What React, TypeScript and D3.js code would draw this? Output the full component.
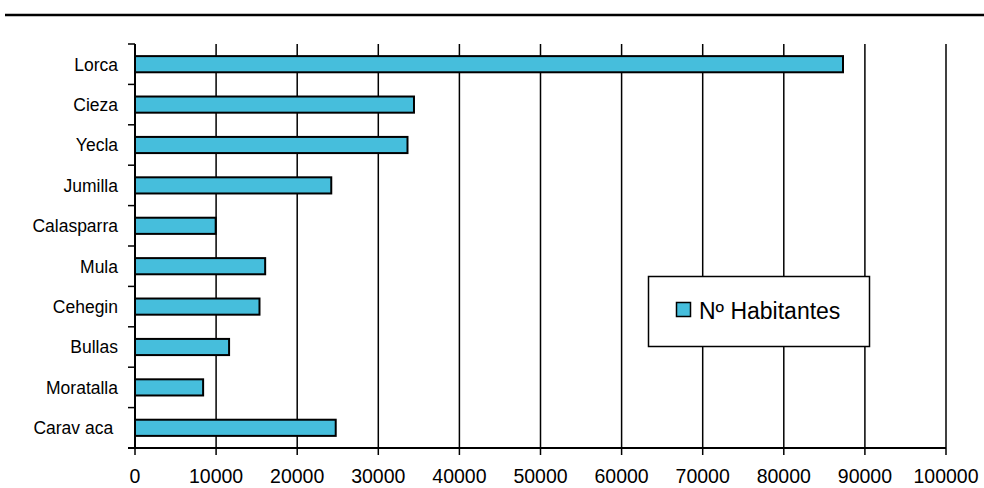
import React from "react";
import * as d3 from "d3";

const categories = ["Lorca", "Cieza", "Yecla", "Jumilla", "Calasparra", "Mula", "Cehegin", "Bullas", "Moratalla", "Carav aca "];
const habitantes = [87300, 34400, 33600, 24200, 9950, 16050, 15350, 11600, 8400, 24750];
const xTicks = [0, 10000, 20000, 30000, 40000, 50000, 60000, 70000, 80000, 90000, 100000];
const seriesName = "Nº Habitantes";

const W = 984;
const H = 488;
const left = 135;
const right = 946;
const top = 44;
const bottom = 448;
const font = "'Liberation Sans', Arial, sans-serif";
const baseFill = "#46bedc";

export default function App() {
  const x = d3.scaleLinear().domain([0, 100000]).range([left, right]);
  const y = d3.scaleBand<string>().domain(categories).range([top, bottom]).paddingInner(0.6).paddingOuter(0.3);
  const step = y.step();
  const boundaries = d3.range(categories.length + 1).map((i) => top + i * step);

  return (
    <>
      <style>{`body{margin:0}`}</style>
      <svg width={W} height={H} style={{ display: "block", background: "#fff" }} xmlSpace="preserve">
        <line x1={5} x2={W} y1={15} y2={15} stroke="#000" strokeWidth={2.4} />
        {/* gridlines */}
        {xTicks.slice(1).map((t) => (
          <line key={"g" + t} x1={x(t)} x2={x(t)} y1={top} y2={bottom} stroke="#000" strokeWidth={1.5} />
        ))}
        {/* bars */}
        {categories.map((c, i) => (
          <rect
            key={c}
            x={x(0)}
            y={y(c)!}
            width={x(habitantes[i]) - x(0)}
            height={y.bandwidth()}
            fill={baseFill}
            stroke="#000"
            strokeWidth={2}
          />
        ))}
        {/* y axis */}
        <line x1={left} x2={left} y1={top} y2={bottom} stroke="#000" strokeWidth={2} />
        {boundaries.map((b, i) => (
          <line key={"yt" + i} x1={left - 7} x2={left} y1={b} y2={b} stroke="#000" strokeWidth={1.5} />
        ))}
        {categories.map((c) => (
          <text
            key={"l" + c}
            x={118}
            y={y(c)! + y.bandwidth() / 2 + 6.3}
            textAnchor="end"
            fontFamily={font}
            fontSize={17.5}
            fill="#000"
            style={{ whiteSpace: "pre" }}
          >
            {c}
          </text>
        ))}
        {/* x axis */}
        <line x1={left - 7} x2={right} y1={bottom} y2={bottom} stroke="#000" strokeWidth={2} />
        {xTicks.map((t) => (
          <g key={"xt" + t}>
            <line x1={x(t)} x2={x(t)} y1={bottom} y2={bottom + 7} stroke="#000" strokeWidth={1.5} />
            <text x={x(t)} y={483} textAnchor="middle" fontFamily={font} fontSize={19.5} fill="#000">
              {t}
            </text>
          </g>
        ))}
        {/* legend */}
        <rect x={648.5} y={276.5} width={221} height={70} fill="#fff" stroke="#000" strokeWidth={1.5} />
        <rect x={676.5} y={302.5} width={14} height={14} fill={baseFill} stroke="#000" strokeWidth={1.5} />
        <text x={699} y={319} fontFamily={font} fontSize={23} fill="#000">
          {seriesName}
        </text>
      </svg>
    </>
  );
}
